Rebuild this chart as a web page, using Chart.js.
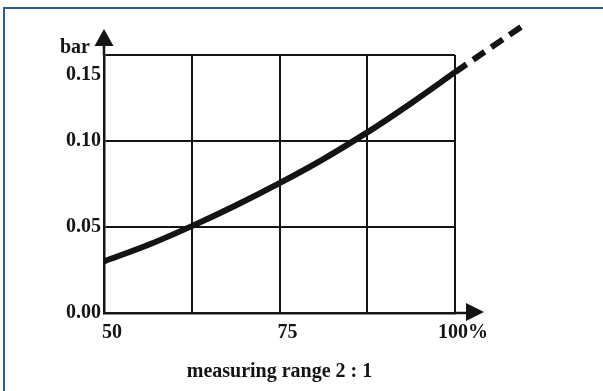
<!DOCTYPE html>
<html>
<head>
<meta charset="utf-8">
<script src="https://cdn.jsdelivr.net/npm/chart.js@4.4.1/dist/chart.umd.min.js"></script>
<style>
  html, body { margin: 0; padding: 0; background: #fff; overflow: hidden; }
  #wrap { position: relative; width: 603px; height: 391px; }
  #frame { position: absolute; left: 3px; top: 7px; right: -4px; bottom: -4px;
           border-top: 2px solid #2f5d8f; border-left: 2px solid #2f5d8f; }
</style>
</head>
<body>
<div id="wrap">
  <div id="frame"></div>
  <canvas id="chart1"></canvas>
</div>
<script>
// measuring range in %, pressure loss in bar
var rangePct = [50, 56.25, 62.5, 68.75, 75, 81.25, 87.5, 93.75, 100];
var lossBar = [0.030, 0.0395, 0.0505, 0.0625, 0.0755, 0.0895, 0.105, 0.122, 0.140];

// dashed extension beyond 100 %
var extPct = [100, 110];
var extBar = [0.140, 0.168];

var xTickLabels = {50: '50', 75: '75', 100: '100%'};
var yTickLabels = ['0.00', '0.05', '0.10', '0.15'];

var ink = '#141414';
var serif = '"Liberation Serif", "DejaVu Serif", serif';

function pts(xs, ys) {
  return xs.map(function(x, i) { return {x: x, y: ys[i]}; });
}

var arrows = {
  id: 'arrows',
  afterDraw: function(chart) {
    var ctx = chart.ctx, a = chart.chartArea;
    ctx.save();
    ctx.strokeStyle = ink;
    ctx.fillStyle = ink;
    ctx.lineWidth = 2.5;
    // y axis arrow
    ctx.beginPath();
    ctx.moveTo(a.left, a.top);
    ctx.lineTo(a.left, a.top - 10);
    ctx.stroke();
    ctx.beginPath();
    ctx.moveTo(a.left - 9.5, a.top - 9);
    ctx.lineTo(a.left + 9.5, a.top - 9);
    ctx.lineTo(a.left, a.top - 26);
    ctx.closePath();
    ctx.fill();
    // x axis arrow
    ctx.beginPath();
    ctx.moveTo(a.right, a.bottom);
    ctx.lineTo(a.right + 12, a.bottom);
    ctx.stroke();
    ctx.beginPath();
    ctx.moveTo(a.right + 11, a.bottom - 10);
    ctx.lineTo(a.right + 11, a.bottom + 8);
    ctx.lineTo(a.right + 29, a.bottom - 1);
    ctx.closePath();
    ctx.fill();
    // unit label
    ctx.font = 'bold 20px ' + serif;
    ctx.textAlign = 'right';
    ctx.textBaseline = 'middle';
    ctx.fillText('bar', a.left - 14, a.top - 7);
    ctx.restore();
  }
};

var ctx = document.getElementById('chart1').getContext('2d');
var chart1 = new Chart(ctx, {
  type: 'line',
  data: {
    datasets: [{
      label: 'pressure loss',
      data: pts(rangePct, lossBar),
      borderColor: ink,
      borderWidth: 6,
      pointRadius: 0,
      tension: 0.4,
      cubicInterpolationMode: 'monotone',
      fill: false
    }, {
      label: 'extension',
      data: pts(extPct, extBar),
      borderColor: ink,
      borderWidth: 6,
      borderDash: [14, 8],
      pointRadius: 0,
      clip: false,
      fill: false
    }]
  },
  options: {
    responsive: true,
    maintainAspectRatio: false,
    animation: false,
    layout: { padding: { top: 55, right: 148, bottom: 7, left: 0 } },
    plugins: { legend: { display: false }, tooltip: { enabled: false } },
    scales: {
      x: {
        type: 'linear',
        min: 50,
        max: 100,
        afterFit: function(s) { s.height = 71; },
        ticks: {
          stepSize: 12.5,
          autoSkip: false,
          maxRotation: 0,
          padding: 8,
          labelOffset: 8,
          color: ink,
          font: { family: serif, size: 20, weight: 'bold' },
          callback: function(v) { return xTickLabels[v] || ''; }
        },
        grid: { color: ink, lineWidth: 2, drawTicks: false },
        border: { color: ink, width: 2.5 },
        title: {
          display: true,
          text: 'measuring range 2 : 1',
          color: ink,
          padding: { top: 0, bottom: 0 },
          font: { family: serif, size: 20, weight: 'bold' }
        }
      },
      y: {
        min: 0,
        max: 0.15,
        afterFit: function(s) { s.width = 104; },
        ticks: {
          stepSize: 0.05,
          padding: 3,
          color: ink,
          font: { family: serif, size: 20, weight: 'bold', lineHeight: 1 },
          callback: function(v, i) {
            var t = yTickLabels[i];
            // top label sits below the frame line in the original
            return i === 3 ? ['', '', t] : t;
          }
        },
        grid: { color: ink, lineWidth: 2, drawTicks: false },
        border: { color: ink, width: 2.5 }
      }
    }
  },
  plugins: [arrows]
});
</script>
</body>
</html>
